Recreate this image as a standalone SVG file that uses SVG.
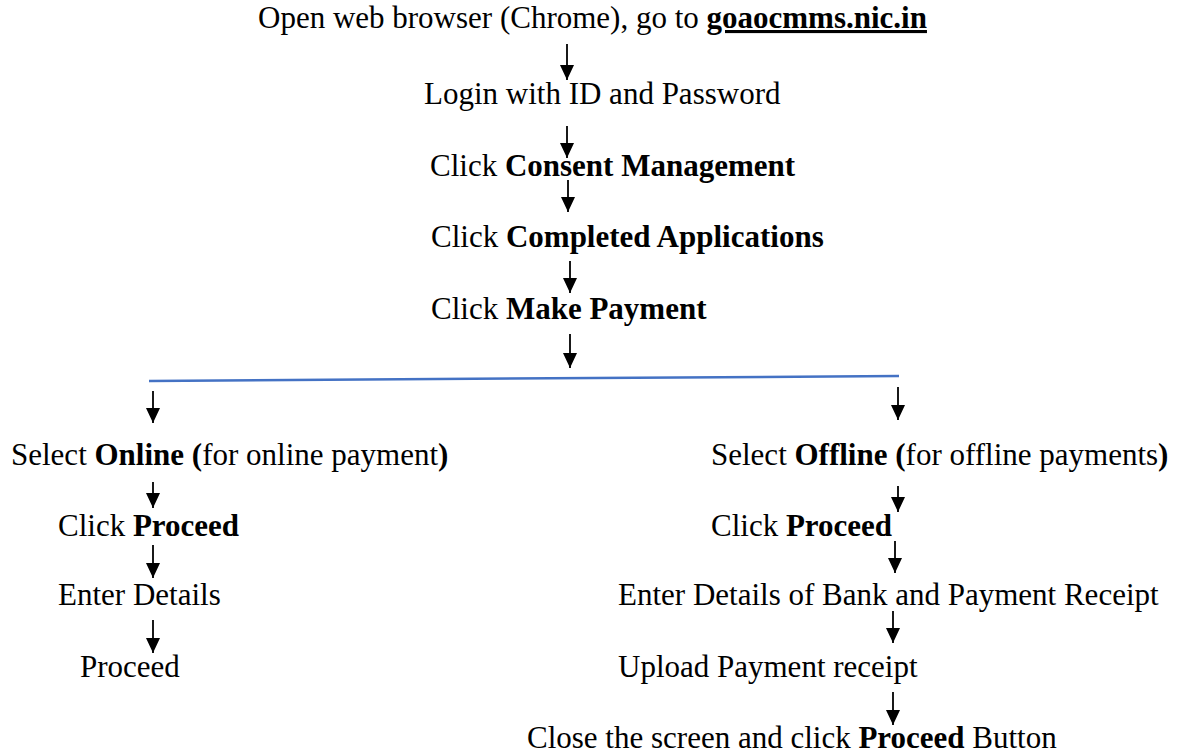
<svg xmlns="http://www.w3.org/2000/svg" width="1178" height="755" viewBox="0 0 1178 755">
<style>
text{font-family:"Liberation Serif","Times New Roman",serif;font-size:31px;fill:#000}
.b{font-weight:bold}
.u{text-decoration:underline}
.arr{stroke:#000;stroke-width:1.8;fill:none;marker-end:url(#ah)}
.split{stroke:#4472C4;stroke-width:2.5;fill:none}
</style>
<defs>
<marker id="ah" viewBox="0 0 15 14" refX="15" refY="7" markerWidth="15" markerHeight="14" markerUnits="userSpaceOnUse" orient="auto">
<path d="M0,0 L15,7 L0,14 z" fill="#000"/>
</marker>
</defs>
<rect width="1178" height="755" fill="#fff"/>
<g id="connectors">
<line class="arr" x1="567" y1="44" x2="567" y2="80"/>
<line class="arr" x1="567" y1="126" x2="567" y2="158"/>
<line class="arr" x1="568" y1="180" x2="568" y2="212"/>
<line class="arr" x1="570" y1="261" x2="570" y2="293"/>
<line class="arr" x1="570" y1="334" x2="570" y2="368"/>
<line class="split" x1="149" y1="381" x2="899" y2="376"/>
<line class="arr" x1="153" y1="391" x2="153" y2="423"/>
<line class="arr" x1="153" y1="482" x2="153" y2="508"/>
<line class="arr" x1="153" y1="545" x2="153" y2="578"/>
<line class="arr" x1="153" y1="620" x2="153" y2="653"/>
<line class="arr" x1="898" y1="387" x2="898" y2="420"/>
<line class="arr" x1="898" y1="486" x2="898" y2="512"/>
<line class="arr" x1="895" y1="541" x2="895" y2="573"/>
<line class="arr" x1="893" y1="611" x2="893" y2="643"/>
<line class="arr" x1="893" y1="692" x2="893" y2="725"/>
</g>
<g id="n1"><text x="258" y="28">Open web browser (Chrome), go to <tspan class="b u">goaocmms.nic.in</tspan></text></g>
<g id="n2"><text x="424" y="104">Login with ID and Password</text></g>
<g id="n3"><text x="430" y="176">Click <tspan class="b">Consent Management</tspan></text></g>
<g id="n4"><text x="431" y="247">Click <tspan class="b">Completed Applications</tspan></text></g>
<g id="n5"><text x="431" y="319">Click <tspan class="b">Make Payment</tspan></text></g>
<g id="n6"><text x="11" y="465">Select <tspan class="b">Online (</tspan>for online payment<tspan class="b">)</tspan></text></g>
<g id="n7"><text x="58" y="536">Click <tspan class="b">Proceed</tspan></text></g>
<g id="n8"><text x="58" y="605">Enter Details</text></g>
<g id="n9"><text x="80" y="677">Proceed</text></g>
<g id="n10"><text x="711" y="465">Select <tspan class="b">Offline (</tspan>for offline payments<tspan class="b">)</tspan></text></g>
<g id="n11"><text x="711" y="536">Click <tspan class="b">Proceed</tspan></text></g>
<g id="n12"><text x="618" y="605">Enter Details of Bank and Payment Receipt</text></g>
<g id="n13"><text x="618" y="677">Upload Payment receipt</text></g>
<g id="n14"><text x="527" y="748">Close the screen and click <tspan class="b">Proceed</tspan> Button</text></g>
</svg>
